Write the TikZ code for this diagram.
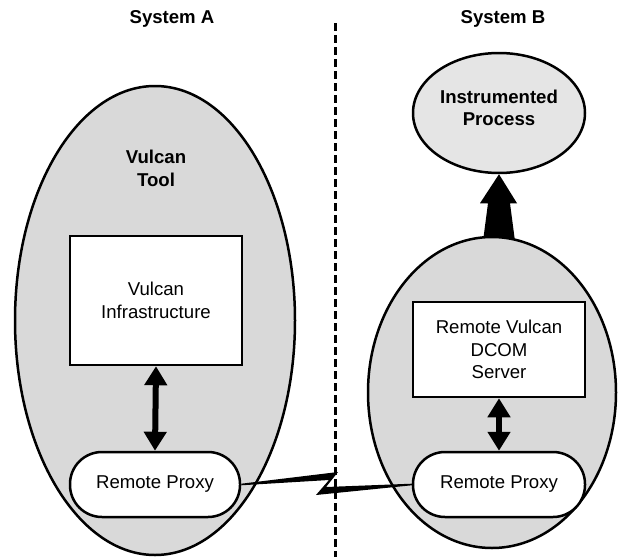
\documentclass[tikz,border=0pt]{standalone}
\usepackage{fontspec}
\setmainfont{Liberation Sans}
\usetikzlibrary{shapes.geometric,arrows.meta,calc}
\pgfdeclarelayer{bg}
\pgfsetlayers{bg,main}

\newcommand{\diagfont}{\fontsize{18.6}{22.5}\selectfont}

\tikzset{
  sysell/.style={ellipse, draw=black, line width=2.5pt, fill=gray!30, inner sep=0pt},
  compbox/.style={rectangle, draw=black, line width=2.5pt, fill=white, align=center, inner sep=0pt},
  proxybox/.style={compbox, rounded corners=32pt},
  dbl/.style={line width=6pt, {Triangle[width=22pt,length=19pt]}-{Triangle[width=22pt,length=19pt]}},
  heading/.style={font=\diagfont\bfseries, align=center}
}

\begin{document}
\begin{tikzpicture}[x=1pt,y=-1pt,font=\diagfont]
  \useasboundingbox (0,0) rectangle (619,557);

  \node[heading] (titleA) at (172,19) {System A};
  \node[heading] (titleB) at (503,19) {System B};

  \coordinate (divtop) at (335,23);
  \coordinate (divbot) at (335,557);
  \draw[line width=3pt, dash pattern=on 8pt off 4pt] (divtop) -- (divbot);

  \node[sysell, minimum width=280pt, minimum height=469pt] (asys) at (155,320.5) {};
  \node[heading] (toollbl) at (156,168.5) {Vulcan\\Tool};
  \node[compbox, minimum width=172pt, minimum height=129pt] (infra) at (156,300.5) {Vulcan\\Infrastructure};
  \node[proxybox, minimum width=170pt, minimum height=65pt] (lproxy) at (155,484.5) {Remote Proxy};
  \draw[dbl] (infra.south) -- (lproxy.north);

  \node[sysell, fill=gray!20, minimum width=172pt, minimum height=120pt] (proc) at (499,113) {};
  \node[heading] (proclbl) at (499,108) {Instrumented\\Process};
  \node[sysell, minimum width=248pt, minimum height=311pt] (bsys) at (492,392.5) {};
  \begin{pgfonlayer}{bg}
    \fill (proc.south) -- ++(18,29) -- ++(-7,0) -- ++(5,38)
      -- ++(-32,0) -- ++(5,-38) -- ++(-8,0) -- cycle;
  \end{pgfonlayer}
  \node[compbox, minimum width=172pt, minimum height=95pt] (dcom) at (499,349.5) {Remote Vulcan\\DCOM\\Server};
  \node[proxybox, minimum width=172pt, minimum height=65pt] (rproxy) at (499,484.5) {Remote Proxy};
  \draw[dbl] (dcom.south) -- (rproxy.north);

  \fill ($(lproxy.east)+(0,-0.8)$) -- (338,472) -- (326,487) -- ($(rproxy.west)+(0,-0.8)$)
    -- ($(rproxy.west)+(0,0.8)$) -- (316,495) -- (329,480) -- ($(lproxy.east)+(0,0.8)$) -- cycle;
\end{tikzpicture}
\end{document}
